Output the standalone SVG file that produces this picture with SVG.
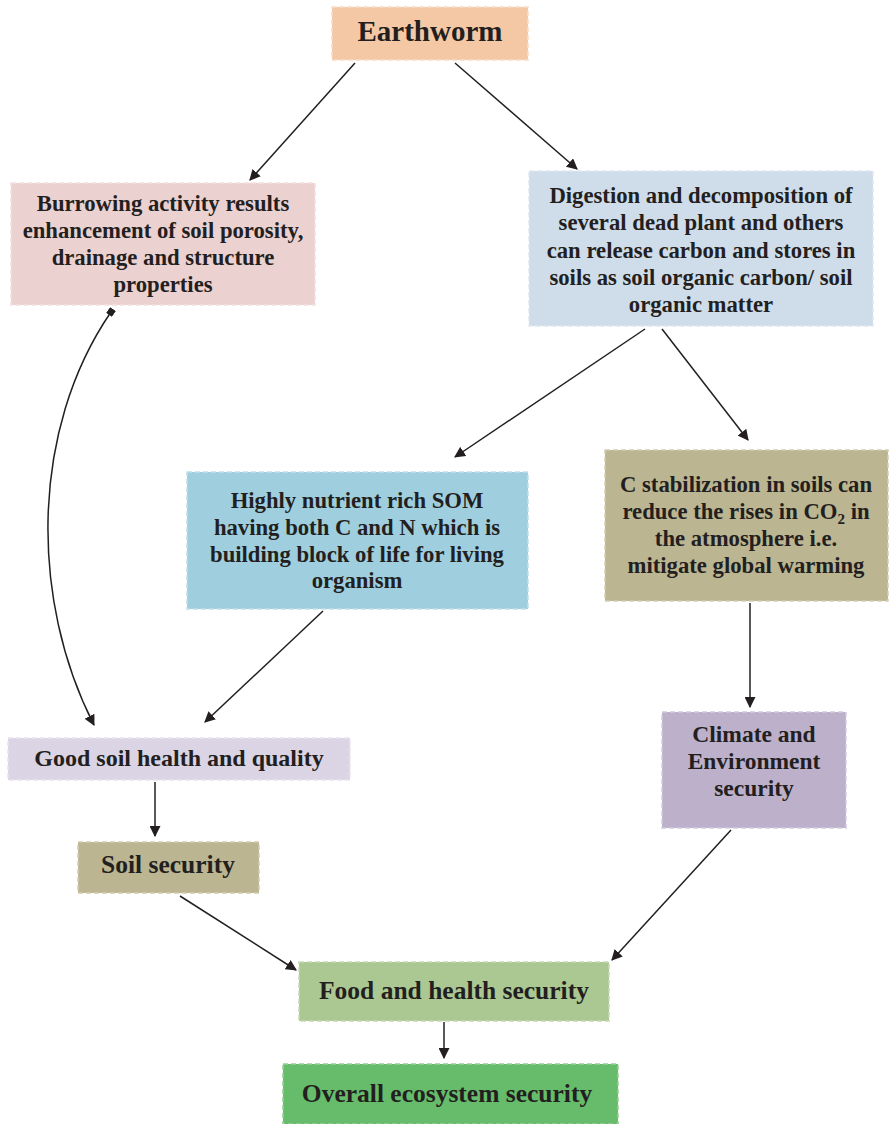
<svg xmlns="http://www.w3.org/2000/svg" width="889" height="1124" viewBox="0 0 889 1124">
  <style>
    .box { stroke-width: 1.5; stroke-dasharray: 5 3; }
    .t { font-family: "Liberation Serif", "Times New Roman", serif; font-weight: bold; font-size: 22.7px; fill: #231f20; text-anchor: middle; }
    .one { font-size: 25.5px; }
    .mid { font-size: 24px; }
    .clim { font-size: 23.5px; }
    .big { font-size: 29px; }
    .edge { fill: none; stroke: #231f20; stroke-width: 1.5; }
  </style>
  <defs>
    <marker id="arrow" viewBox="0 0 10 10" refX="9" refY="5" markerWidth="11" markerHeight="11" markerUnits="userSpaceOnUse" orient="auto">
      <path d="M0,0 L10,5 L0,10 z" fill="#231f20"/>
    </marker>
    <marker id="sq" viewBox="0 0 10 10" refX="5" refY="5" markerWidth="7" markerHeight="7" markerUnits="userSpaceOnUse" orient="auto">
      <rect x="0" y="0" width="10" height="10" fill="#231f20"/>
    </marker>
  </defs>

  <rect width="889" height="1124" fill="#ffffff"/>

  <g id="connectors">
    <line class="edge" x1="355" y1="63" x2="250" y2="180" marker-end="url(#arrow)"/>
    <line class="edge" x1="455" y1="63" x2="577" y2="169" marker-end="url(#arrow)"/>
    <line class="edge" x1="645" y1="329" x2="455" y2="457" marker-end="url(#arrow)"/>
    <line class="edge" x1="662" y1="329" x2="748" y2="440" marker-end="url(#arrow)"/>
    <path class="edge" d="M111,312 C30,430 30,600 94,725" marker-start="url(#sq)" marker-end="url(#arrow)"/>
    <line class="edge" x1="323" y1="611" x2="205" y2="722" marker-end="url(#arrow)"/>
    <line class="edge" x1="155" y1="782" x2="155" y2="836" marker-end="url(#arrow)"/>
    <line class="edge" x1="750" y1="603" x2="750" y2="707" marker-end="url(#arrow)"/>
    <line class="edge" x1="180" y1="896" x2="296" y2="970" marker-end="url(#arrow)"/>
    <line class="edge" x1="731" y1="830" x2="612" y2="960" marker-end="url(#arrow)"/>
    <line class="edge" x1="444" y1="1022" x2="444" y2="1058" marker-end="url(#arrow)"/>
  </g>

  <g id="earthworm">
    <rect class="box" x="332" y="7" width="196" height="53" fill="#f5c8a5" stroke="#f8dcc6"/>
    <text class="t big" x="430" y="41">Earthworm</text>
  </g>

  <g id="burrowing">
    <rect class="box" x="11" y="183" width="304" height="122" fill="#ecd1d1" stroke="#f3e0e0"/>
    <text class="t" x="163" y="211">Burrowing activity results</text>
    <text class="t" x="163" y="238">enhancement of soil porosity,</text>
    <text class="t" x="163" y="265">drainage and structure</text>
    <text class="t" x="163" y="292">properties</text>
  </g>

  <g id="digestion">
    <rect class="box" x="529" y="171" width="344" height="155" fill="#cfdcea" stroke="#dfe8f1"/>
    <text class="t" x="701" y="203">Digestion and decomposition of</text>
    <text class="t" x="701" y="230">several dead plant and others</text>
    <text class="t" x="701" y="258">can release carbon and stores in</text>
    <text class="t" x="701" y="285">soils as soil organic carbon/ soil</text>
    <text class="t" x="701" y="312">organic matter</text>
  </g>

  <g id="som">
    <rect class="box" x="187" y="472" width="341" height="137" fill="#9fcfdf" stroke="#c0e0ea"/>
    <text class="t" x="357" y="508">Highly nutrient rich SOM</text>
    <text class="t" x="357" y="535">having both C and N which is</text>
    <text class="t" x="357" y="562">building block of life for living</text>
    <text class="t" x="357" y="588">organism</text>
  </g>

  <g id="stabilization">
    <rect class="box" x="605" y="450" width="283" height="151" fill="#bbb591" stroke="#d2cdb2"/>
    <text class="t" x="746" y="492">C stabilization in soils can</text>
    <text class="t" x="746" y="519">reduce the rises in CO<tspan font-size="15" dy="5">2</tspan><tspan dy="-5"> in</tspan></text>
    <text class="t" x="746" y="546">the atmosphere i.e.</text>
    <text class="t" x="746" y="573">mitigate global warming</text>
  </g>

  <g id="soil-health">
    <rect class="box" x="8" y="738" width="342" height="42" fill="#dad4e4" stroke="#e7e3ee"/>
    <text class="t mid" x="179" y="766">Good soil health and quality</text>
  </g>

  <g id="soil-security">
    <rect class="box" x="78" y="842" width="181" height="51" fill="#bbb591" stroke="#d2cdb2"/>
    <text class="t one" x="168" y="873">Soil security</text>
  </g>

  <g id="climate">
    <rect class="box" x="662" y="712" width="184" height="116" fill="#bcb0cb" stroke="#d3cadd"/>
    <text class="t clim" x="754" y="742">Climate and</text>
    <text class="t clim" x="754" y="769">Environment</text>
    <text class="t clim" x="754" y="796">security</text>
  </g>

  <g id="food">
    <rect class="box" x="299" y="962" width="310" height="59" fill="#abc893" stroke="#c6dab5"/>
    <text class="t one" x="454" y="999">Food and health security</text>
  </g>

  <g id="ecosystem">
    <rect class="box" x="283" y="1064" width="335" height="60" fill="#66bc6a" stroke="#95d097"/>
    <text class="t one" x="447" y="1102">Overall ecosystem security</text>
  </g>
</svg>
